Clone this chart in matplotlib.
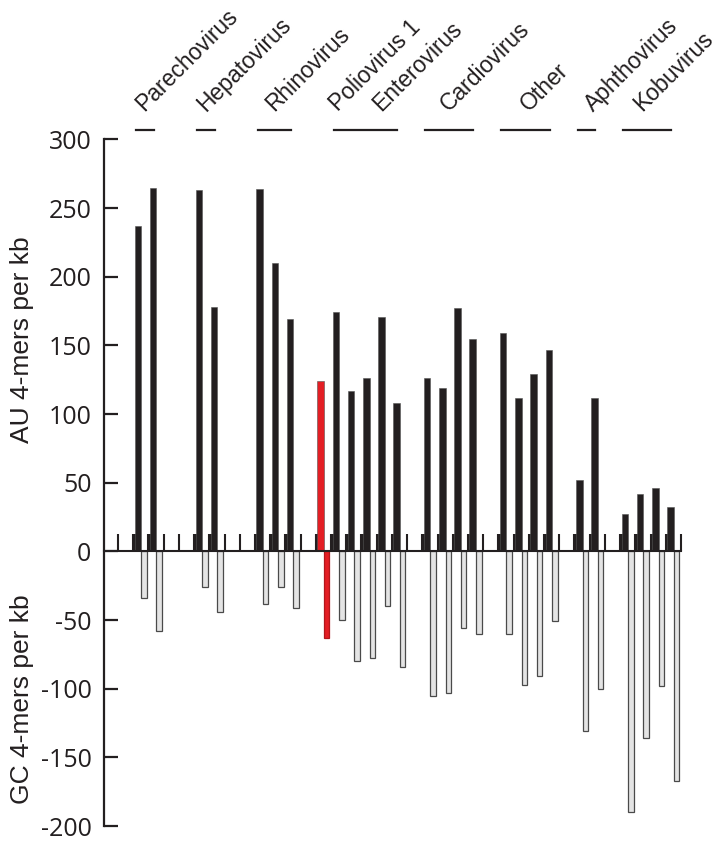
import numpy as np
import matplotlib
matplotlib.use("Agg")
import matplotlib.pyplot as plt
import matplotlib.transforms as mtransforms

plt.rcParams['font.family'] = ['Liberation Sans', 'DejaVu Sans']

# virus groups, in order along the axis
groups = ["Parechovirus", "Hepatovirus", "Rhinovirus", "Poliovirus 1", "Enterovirus",
          "Cardiovirus", "Other", "Aphthovirus", "Kobuvirus"]
group_sizes = [2, 2, 3, 1, 5, 4, 4, 2, 4]
gaps_before = [1, 2, 2, 1, 0, 1, 1, 1, 1]   # empty tick slots before each group
underlined = [True, True, True, False, True, True, True, True, True]

# AU 4-mers per kb (upper, black) and GC 4-mers per kb (lower, grey)
au_values = [237, 265,
             263, 178,
             264, 210, 169,
             124,
             174, 117, 126, 171, 108,
             126, 119, 177, 155,
             159, 112, 129, 147,
             52, 112,
             27, 42, 46, 32]
gc_values = [-34, -58,
             -26, -44,
             -38, -26, -41,
             -63,
             -50, -80, -78, -40, -84,
             -105, -103, -56, -60,
             -60, -97, -91, -51,
             -131, -100,
             -190, -136, -98, -167]
highlight = "Poliovirus 1"

dark = '#231f20'
red = '#e31e24'

# slot layout
slot = 0
group_slots = []
for gap, n in zip(gaps_before, group_sizes):
    slot += gap
    group_slots.append(list(range(slot, slot + n)))
    slot += n
last_tick = slot
pos = np.array([s for g in group_slots for s in g], dtype=float)
is_red = []
for g, idx in zip(groups, group_slots):
    is_red += [g == highlight] * len(idx)
is_red = np.array(is_red)

fig = plt.figure(figsize=(7.18, 8.41), dpi=100)
ax = fig.add_axes([104 / 718, 15 / 841, 577 / 718, 0.8163])
ax.set_xlim(-0.92, last_tick)
ax.set_ylim(-200, 300)

foot_h = 12.7
# tick marks along the zero line
ax.vlines(np.arange(0, last_tick + 1), 0, foot_h, color=dark, lw=1.5, clip_on=False)
# dark foot at the base of each upper bar
ax.bar(pos - 0.05, foot_h, width=0.58, align='edge', color=dark, lw=0)

bar_cols = [red if r else dark for r in is_red]
ax.bar(pos + 0.1, au_values, width=0.43, align='edge', color=bar_cols,
       edgecolor='#555555', lw=0.4, zorder=3)
gc_fill = [red if r else '#e4e4e4' for r in is_red]
gc_edge = ['#b3161b' if r else '#4a4a4a' for r in is_red]
ax.bar(pos + 0.53, gc_values, width=0.36, align='edge', color=gc_fill,
       edgecolor=gc_edge, lw=0.9, zorder=3)

# zero line
ax.plot([-0.92, last_tick], [0, 0], color=dark, lw=1.5, clip_on=False, zorder=4)

# group underlines and labels
label_shift = {"Poliovirus 1": 1.2, "Enterovirus": 1.05, "Other": 0.3,
               "Aphthovirus": 0.5, "Kobuvirus": -0.3}
for g, idx, ul in zip(groups, group_slots, underlined):
    x0, x1 = idx[0] + 0.2, idx[-1] + 0.36
    if ul:
        ax.plot([x0, x1], [307, 307], color=dark, lw=1.6, clip_on=False)
    xl = (x0 + x1) / 2 - 0.05 + label_shift.get(g, 0)
    ax.text(xl, 320, g, rotation=45, rotation_mode='anchor', ha='left',
            va='baseline', fontsize=16.5, color=dark, clip_on=False)

for s in ['top', 'right', 'bottom']:
    ax.spines[s].set_visible(False)
ax.spines['left'].set_linewidth(1.6)
ax.spines['left'].set_color(dark)
ax.set_xticks([])
ax.set_yticks(np.arange(-200, 301, 50))
ax.set_yticklabels([str(v) for v in np.arange(-200, 301, 50)],
                   family=['Open Sans', 'DejaVu Sans'])
ax.tick_params(axis='y', direction='in', length=10, width=1.6, pad=9,
               labelsize=18, color=dark, labelcolor=dark)

trans = mtransforms.blended_transform_factory(ax.transAxes, ax.transData)
ax.text(-0.142, 154, "AU 4-mers per kb", rotation=90, ha='center', va='center',
        fontsize=19, color=dark, transform=trans)
ax.text(-0.142, -108, "GC 4-mers per kb", rotation=90, ha='center', va='center',
        fontsize=19, color=dark, transform=trans)

fig.savefig("out.png", dpi=100)
